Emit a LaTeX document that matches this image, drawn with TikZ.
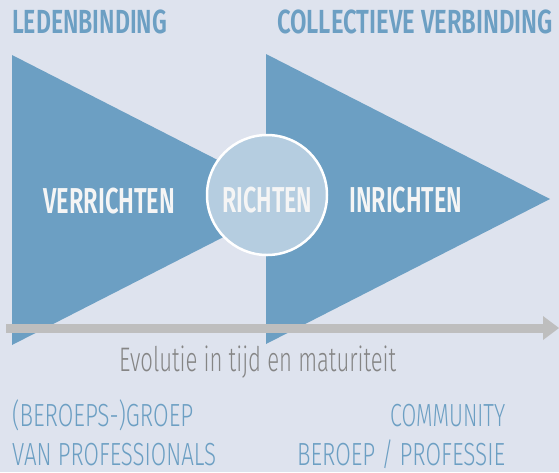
\documentclass[tikz,border=0pt]{standalone}
\usepackage{fontspec}
\usepackage{graphicx}
\setmainfont{Fira Sans}
\newfontfamily\hdfont{Fira Sans}[UprightFont={* SemiBold}]
\newfontfamily\ltfont{Fira Sans}[UprightFont={* Light}]
\definecolor{bgc}{HTML}{DEE3EE}
\definecolor{tric}{HTML}{6C9FC3}
\definecolor{circc}{HTML}{B5CDE0}
\definecolor{arrc}{HTML}{BEBEBE}
\definecolor{evoc}{HTML}{858585}
\definecolor{txtw}{HTML}{F5F5F5}
\newcommand\fitw[2]{\resizebox{#1}{\height}{#2}}
\tikzset{
  lbl/.style={inner sep=0pt, anchor=base west},
  hdr/.style={lbl, text=tric, font=\hdfont\fontsize{33.4}{36}\selectfont},
  inlbl/.style={lbl, text=txtw, font=\hdfont\fontsize{36}{40}\selectfont},
  btm/.style={lbl, text=tric, font=\ltfont\fontsize{32}{36}\selectfont},
  evo/.style={lbl, text=evoc, font=\ltfont\fontsize{34}{38}\selectfont},
  tri/.style={fill=tric, draw=none}
}
\begin{document}
\begin{tikzpicture}[x=1pt,y=-1pt]
\fill[bgc] (0,0) rectangle (559,472);
\useasboundingbox (0,0) rectangle (559,472);
% triangles
\fill[tri] (12,55) -- (12,345) -- (296,200) -- cycle;
\fill[tri] (266,54) -- (266,344) -- (550,199) -- cycle;
% circle
\node[circle, fill=circc, draw=white, line width=2.5pt, minimum size=120pt, inner sep=0pt] (c) at (267,195) {};
% arrow
\coordinate (as) at (6,328);
\coordinate (ae) at (543,328);
\draw[arrc, line width=9pt] (as) -- (ae);
\fill[arrc] (543,316) -- (559,328) -- (543,340) -- cycle;
% headers
\node[hdr] (h1) at (12,33) {\fitw{155pt}{LEDENBINDING}};
\node[hdr] (h2) at (277,33) {\fitw{276pt}{COLLECTIEVE VERBINDING}};
% inner labels
\node[inlbl] (v) at (43,213) {\fitw{132pt}{VERRICHTEN}};
\node[inlbl] (r) at (222,212) {\fitw{90pt}{RICHTEN}};
\node[inlbl] (i) at (349,212) {\fitw{113pt}{INRICHTEN}};
% evolution
\node[evo] (e) at (119,371) {\fitw{277pt}{Evolutie in tijd en maturiteit}};
% bottom
\node[btm] (b1) at (12,426) {\fitw{181pt}{(BEROEPS-)GROEP}};
\node[btm] (b2) at (12,465) {\fitw{204pt}{VAN PROFESSIONALS}};
\node[btm] (b3) at (390,426) {\fitw{115pt}{COMMUNITY}};
\node[btm] (b4) at (297,465) {\fitw{208pt}{BEROEP / PROFESSIE}};
\end{tikzpicture}
\end{document}
